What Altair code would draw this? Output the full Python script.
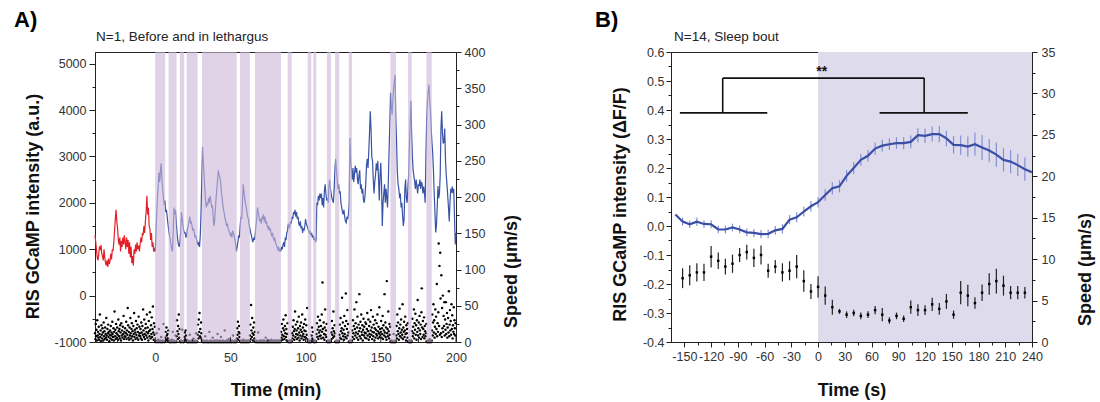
import altair as alt
import pandas as pd

# ======================= Panel A data =======================
tag_a = "A)"
sub_a = "N=1, Before and in lethargus"

gc_pre_start = -40.0
gc_step = 0.5
# RIS GCaMP intensity (a.u.) before lethargus, t = -40 .. -0.5 min
gc_pre = [
    1300, 1150, 980, 820, 760, 900, 1060, 980, 1090, 900, 850, 760, 1000, 820, 700, 650, 760, 620, 800, 680,
    740, 900, 780, 1000, 960, 1150, 1400, 1650, 1850, 1600, 1450, 1200, 1100, 1250, 950, 1180, 1050, 1250, 1100, 1300,
    1150, 1000, 1250, 1050, 1200, 900, 1150, 820, 1050, 700, 850, 650, 1000, 900, 1100, 950, 1150, 1000, 1080, 950,
    1100, 1250, 1150, 1350, 1300, 1500, 1350, 1600, 1800, 2150, 1750, 1900, 1500, 1450, 1200, 1350, 1050, 1150, 950, 1000,
]
gc_leth_start = 0.0
# RIS GCaMP intensity (a.u.) during lethargus, t = 0 .. 200 min
gc_leth = [
    950, 1300, 1750, 2100, 2350, 2650, 2450, 2700, 2850, 2500, 2300, 2100, 1950, 2050, 1800, 1850, 1700, 1550, 1400, 1300,
    1200, 1100, 1000, 950, 1400, 1900, 1750, 1850, 1600, 1350, 1200, 1100, 1050, 1150, 1400, 1800, 1650, 1500, 1400, 1350,
    1350, 1250, 1300, 1450, 1500, 1600, 1700, 1550, 1600, 1500, 1400, 1450, 1350, 1250, 1300, 1200, 1150, 1100, 1150, 1050,
    1300, 1800, 2500, 3200, 2900, 2600, 2300, 2050, 1900, 2000, 1950, 2100, 2000, 2150, 2050, 1900, 1950, 1750, 1500, 1600,
    1850, 2100, 2300, 2500, 2700, 2600, 2550, 2450, 2250, 2100, 1950, 1850, 1750, 1650, 1600, 1500, 1550, 1450, 1400, 1350,
    1300, 1350, 1250, 1400, 1350, 1300, 1200, 1100, 950, 1050, 1150, 1300, 1250, 1500, 1700, 1650, 1950, 2400, 2250, 2100,
    2000, 1900, 1800, 1700, 1650, 1500, 1450, 1350, 1300, 1200, 1150, 1250, 1200, 1300, 1500, 1650, 1900, 1800, 1700, 1600,
    1650, 1550, 1700, 1650, 1750, 1600, 1700, 1550, 1600, 1500, 1450, 1500, 1400, 1450, 1350, 1300, 1350, 1250, 1200, 1250,
    1150, 1100, 1050, 1000, 1050, 950, 1000, 950, 1050, 1000, 1100, 1150, 1050, 1250, 1200, 1350, 1400, 1550, 1450, 1500,
    1600, 1550, 1700, 1650, 1800, 1750, 1850, 1700, 1800, 1650, 1700, 1550, 1500, 1600, 1450, 1500, 1350, 1450, 1400, 1500,
    1650, 1550, 1500, 1450, 1400, 1350, 1400, 1300, 1350, 1250, 1300, 1200, 1250, 1150, 1200, 2000, 1950, 2150, 2050, 2200,
    2100, 2200, 1950, 2100, 1900, 2250, 2400, 2200, 2050, 2100, 2000, 2350, 2500, 2300, 2200, 2100, 2050, 2000, 2300, 2700,
    2950, 2700, 2500, 2300, 2400, 2200, 2250, 2000, 1900, 1800, 1750, 1850, 1700, 1600, 1570, 1700, 1650, 1750, 2000, 3400,
    2900, 2700, 2500, 2750, 2450, 2600, 2800, 2650, 2750, 2500, 2400, 2600, 2700, 2300, 2400, 2200, 2300, 2050, 2000, 2150,
    2400, 2800, 2950, 2750, 3100, 3500, 3975, 3600, 3000, 2900, 2500, 2200, 2450, 2600, 2850, 2700, 2900, 2500, 2050, 2600,
    2860, 2400, 1500, 2000, 2200, 2400, 2000, 2300, 2100, 1900, 2450, 3100, 3700, 4370, 4080, 3900, 4200, 4450, 4600, 4760,
    3800, 3300, 2650, 2400, 2300, 2100, 2200, 1900, 2000, 1720, 1500, 1650, 2300, 2500, 2100, 2000, 2300, 2600, 3200, 3700,
    4200, 3500, 3000, 2700, 2580, 2450, 2300, 2500, 2350, 2200, 2400, 2360, 2500, 2300, 2450, 2400, 2200, 2350, 2220, 2000,
    3000, 3800, 4200, 4400, 4550, 4200, 4000, 3600, 3300, 3080, 2700, 2200, 1800, 1360, 1500, 1900, 2360, 2100, 2200, 2600,
    3600, 3975, 3500, 3290, 3300, 3600, 2930, 2600, 2400, 2150, 1900, 1600, 2000, 2300, 2220, 2350, 2200, 2300, 1700, 1100,
    1350,
]

spd_start = -40.0
spd_step = 0.25
# Speed (um/s), t = -40 .. 199.75 min
spd_values = [
    12, 4, 25, 8, 17, 2, 30, 9, 14, 6, 21, 3, 11, 38, 7, 16, 1, 23, 10, 5, 19, 13, 2, 27, 8, 15, 4, 20, 11, 6, 33, 9, 3, 18, 12, 24, 7, 14, 1, 10,
    16, 5, 22, 9, 13, 3, 28, 11, 7, 19, 2, 14, 42, 8, 17, 4, 25, 12, 6, 20, 10, 3, 31, 15, 8, 18, 5, 23, 13, 2, 26, 9, 16, 6, 21, 11, 36, 4, 14, 8,
    19, 7, 12, 28, 4, 16, 10, 47, 23, 6, 14, 3, 20, 9, 33, 12, 5, 18, 26, 8, 15, 2, 22, 11, 40, 7, 17, 13, 4, 29, 10, 19, 6, 24, 14, 3, 35, 9, 21, 12,
    8, 18, 5, 27, 13, 3, 22, 10, 45, 16, 7, 31, 11, 4, 19, 25, 9, 14, 38, 6, 20, 12, 2, 29, 15, 8, 41, 17, 5, 23, 11, 34, 7, 18, 49, 13, 3, 26, 10, 21,
    0, 1, 0, 2, 12, 0, 1, 0, 3, 0, 18, 1, 0, 2, 0, 0, 7, 1, 0, 0, 2, 0, 25, 1, 0, 1, 0, 6, 14, 3, 20, 9, 2, 11, 5, 16, 1, 0, 2, 0,
    0, 1, 0, 0, 3, 0, 1, 14, 0, 2, 0, 1, 0, 0, 9, 1, 0, 8, 30, 15, 4, 22, 11, 38, 6, 18, 1, 0, 0, 2, 0, 1, 17, 0, 1, 0, 0, 2, 7, 13,
    4, 16, 9, 2, 0, 1, 0, 2, 0, 0, 1, 0, 10, 0, 1, 0, 0, 2, 0, 1, 0, 0, 5, 0, 1, 0, 0, 2, 0, 12, 0, 1, 0, 10, 24, 5, 31, 14, 40, 8,
    18, 6, 27, 12, 3, 1, 0, 0, 2, 0, 1, 0, 0, 8, 0, 1, 0, 2, 0, 0, 1, 0, 0, 0, 14, 1, 0, 0, 2, 0, 1, 0, 0, 6, 0, 1, 0, 0, 2, 0,
    0, 1, 0, 0, 2, 0, 11, 1, 0, 0, 0, 2, 0, 1, 0, 7, 0, 0, 1, 0, 2, 0, 0, 1, 0, 16, 0, 1, 0, 0, 2, 0, 1, 0, 0, 4, 0, 1, 0, 2,
    0, 1, 0, 0, 2, 0, 1, 9, 0, 0, 1, 0, 2, 0, 0, 1, 0, 5, 19, 10, 28, 3, 14, 22, 7, 12, 1, 0, 0, 2, 0, 1, 0, 0, 3, 0, 1, 0, 0, 2,
    0, 1, 0, 0, 2, 0, 1, 0, 0, 2, 0, 1, 9, 24, 4, 51, 16, 7, 33, 12, 2, 20, 10, 27, 5, 14, 1, 0, 0, 2, 0, 1, 0, 0, 13, 0, 1, 0, 0, 2,
    0, 1, 0, 0, 2, 0, 1, 0, 0, 2, 0, 1, 0, 0, 6, 0, 1, 0, 2, 0, 0, 1, 0, 0, 2, 0, 1, 0, 0, 3, 0, 1, 0, 0, 2, 0, 1, 0, 0, 2,
    0, 1, 0, 0, 2, 0, 1, 0, 0, 2, 0, 1, 0, 0, 2, 14, 6, 25, 10, 3, 19, 31, 8, 16, 4, 22, 12, 37, 7, 18, 2, 11, 26, 1, 0, 0, 2, 0, 1, 0,
    0, 2, 0, 1, 12, 5, 21, 9, 30, 15, 3, 18, 42, 7, 24, 11, 16, 4, 28, 10, 19, 6, 35, 13, 2, 22, 9, 17, 27, 5, 14, 38, 8, 20, 11, 3, 25, 16, 7, 31,
    15, 6, 23, 10, 47, 4, 1, 0, 0, 2, 0, 1, 0, 0, 2, 0, 9, 20, 5, 14, 3, 0, 1, 0, 0, 2, 0, 1, 0, 11, 26, 7, 17, 35, 4, 21, 13, 8, 30, 16,
    9, 22, 5, 38, 14, 82, 18, 6, 27, 11, 3, 20, 45, 10, 16, 7, 25, 1, 0, 0, 2, 0, 1, 0, 0, 2, 0, 1, 13, 4, 29, 10, 19, 6, 42, 15, 8, 23, 12, 0,
    1, 0, 0, 2, 0, 1, 0, 0, 2, 0, 10, 24, 6, 33, 15, 4, 19, 61, 12, 27, 8, 17, 3, 36, 11, 22, 7, 67, 29, 5, 18, 44, 9, 25, 13, 0, 1, 0, 0, 2,
    1, 0, 0, 2, 16, 7, 30, 12, 22, 4, 45, 18, 9, 26, 13, 55, 6, 20, 35, 11, 3, 24, 15, 66, 8, 19, 28, 5, 38, 14, 10, 23, 2, 17, 32, 9, 21, 13, 6, 27,
    12, 25, 5, 18, 40, 9, 15, 31, 3, 22, 11, 7, 28, 16, 44, 10, 20, 4, 14, 35, 8, 24, 13, 2, 19, 30, 6, 17, 11, 26, 9, 38, 15, 5, 21, 12, 48, 7, 18, 10,
    14, 29, 6, 19, 11, 36, 4, 23, 16, 9, 66, 13, 27, 7, 20, 3, 84, 12, 18, 8, 42, 15, 5, 25, 10, 21, 1, 0, 0, 2, 0, 1, 0, 0, 11, 0, 1, 0, 0, 2,
    0, 9, 22, 5, 38, 15, 27, 11, 3, 19, 46, 8, 24, 13, 31, 6, 17, 10, 52, 4, 20, 14, 28, 7, 16, 35, 11, 2, 23, 12, 18, 6, 26, 1, 0, 0, 2, 0, 1, 0,
    0, 2, 0, 15, 32, 8, 21, 12, 45, 5, 26, 17, 39, 10, 23, 3, 30, 14, 58, 9, 19, 27, 6, 36, 16, 11, 24, 4, 41, 74, 20, 7, 29, 18, 10, 34, 5, 22, 15, 8,
    12, 25, 1, 0, 0, 2, 0, 1, 0, 0, 4, 0, 1, 0, 0, 2, 16, 38, 9, 27, 52, 13, 30, 6, 21, 45, 11, 35, 18, 80, 8, 26, 14, 41, 136, 22, 105, 10, 123, 60,
    12, 92, 7, 47, 19, 64, 14, 36, 22, 55, 9, 31, 17, 55, 11, 25, 40, 6, 20, 33, 13, 70, 8, 24, 44, 16, 29, 10, 52, 18, 37, 5, 23, 14, 48, 11, 30, 19, 9, 26,
]

sleep_start = [0, 8.9, 16.4, 20.9, 31.1, 56.4, 66.3, 88.1, 101.4, 105.1, 114.2, 119.6, 128.7, 156.4, 168.1, 180.3]
sleep_end = [6.65, 14.2, 19.3, 28.2, 54.2, 63.0, 83.6, 90.8, 103.8, 107.1, 116.9, 122.4, 130.9, 160.1, 170.6, 183.9]

a_x_domain = [-40, 200]
a_x_major = [0, 50, 100, 150, 200]
a_x_minor = [-25, 25, 75, 125, 175]
a_left_domain = [-1000, 5250]
a_left_ticks = [-1000, -500, 0, 500, 1000, 1500, 2000, 2500, 3000, 3500, 4000, 4500, 5000]
a_right_domain = [0, 400]
a_right_ticks = [0, 25, 50, 75, 100, 125, 150, 175, 200, 225, 250, 275, 300, 325, 350, 375, 400]

# ======================= Panel B data =======================
tag_b = "B)"
sub_b = "N=14, Sleep bout"

b_line_t = [-160, -152, -144, -136, -128, -120, -112, -104, -96, -88, -80, -72, -64, -56, -48, -40, -32, -24, -16, -8,
            0, 8, 16, 24, 32, 40, 48, 56, 64, 72, 80, 88, 96, 104, 112, 120, 128, 136, 144, 152, 160, 168, 176, 184,
            192, 200, 208, 216, 224, 232, 240]
b_line_v = [0.04, 0.015, 0.006, 0.015, 0.007, 0.006, -0.012, -0.012, -0.005, -0.012, -0.022, -0.024, -0.028, -0.027,
            -0.015, -0.01, 0.022, 0.03, 0.05, 0.068, 0.082, 0.107, 0.13, 0.137, 0.173, 0.2, 0.228, 0.242, 0.267, 0.277,
            0.282, 0.286, 0.286, 0.29, 0.313, 0.311, 0.317, 0.317, 0.302, 0.28, 0.279, 0.274, 0.282, 0.271, 0.26, 0.246,
            0.228, 0.222, 0.21, 0.196, 0.185]
b_t = [-152, -144, -136, -128, -120, -112, -104, -96, -88, -80, -72, -64, -56, -48, -40, -32, -24, -16, -8,
       0, 8, 16, 24, 32, 40, 48, 56, 64, 72, 80, 88, 96, 104, 112, 120, 128, 136, 144, 152, 160, 168, 176, 184,
       192, 200, 208, 216, 224, 232]
b_gc = b_line_v[1:-1]
b_gc_err = [0.014, 0.013, 0.014, 0.013, 0.014, 0.013, 0.014, 0.013, 0.014, 0.013,
            0.014, 0.014, 0.015, 0.015, 0.016, 0.016, 0.017, 0.017, 0.018, 0.018,
            0.02, 0.021, 0.021, 0.02, 0.021, 0.02, 0.02, 0.021, 0.02, 0.02,
            0.02, 0.021, 0.022, 0.024, 0.025, 0.026, 0.028, 0.027, 0.03, 0.033,
            0.035, 0.04, 0.043, 0.04, 0.042, 0.04, 0.04, 0.038, 0.04]
b_spd = [7.7, 8.05, 8.4, 8.4, 10.3, 9.8, 9.1, 9.45, 10.5, 10.85,
         10.15, 10.5, 8.6, 9.1, 8.4, 8.6, 9.1, 7.35, 6.1, 6.65,
         5.6, 4.2, 3.7, 3.3, 3.5, 3.15, 3.3, 3.85, 3.3, 2.6,
         3.15, 2.8, 4.2, 3.85, 3.85, 4.55, 4.0, 4.9, 3.3, 5.95,
         5.6, 4.7, 5.95, 7.0, 7.35, 6.8, 5.95, 5.95, 5.95]
b_spd_err = [1.2, 1.2, 1.1, 1.05, 1.3, 1.0, 0.95, 1.1, 0.85, 0.9,
             1.1, 1.15, 0.85, 0.8, 1.1, 1.15, 1.4, 1.3, 0.9, 1.3,
             1.1, 0.9, 0.3, 0.4, 0.4, 0.4, 0.4, 0.5, 0.8, 0.4,
             0.4, 0.4, 0.8, 0.7, 0.6, 0.8, 0.7, 0.9, 0.5, 1.4,
             1.3, 0.7, 1.0, 1.3, 1.5, 1.2, 0.8, 0.8, 0.7]

b_shade = [0, 240]
# significance bracket segments (x1, y1) -> (x2, y2)
br_x1 = [-155, -107, -107, 119, 69]
br_x2 = [-57, -107, 119, 119, 168]
br_y1 = [0.39, 0.39, 0.51, 0.51, 0.39]
br_y2 = [0.39, 0.51, 0.51, 0.39, 0.39]
star_label = "**"
star_x = 4
star_y = 0.53

b_x_domain = [-165, 240]
b_x_ticks = [-150, -135, -120, -105, -90, -75, -60, -45, -30, -15, 0, 15, 30, 45, 60, 75, 90, 105, 120, 135,
             150, 165, 180, 195, 210, 225, 240]
b_left_domain = [-0.4, 0.6]
b_left_ticks = [-0.4, -0.35, -0.3, -0.25, -0.2, -0.15, -0.1, -0.05, 0.0, 0.05, 0.1, 0.15, 0.2, 0.25, 0.3, 0.35,
                0.4, 0.45, 0.5, 0.55, 0.6]
b_right_domain = [0, 35]
b_right_ticks = [0, 2.5, 5, 7.5, 10, 12.5, 15, 17.5, 20, 22.5, 25, 27.5, 30, 32.5, 35]

# ======================= styles =======================
W, H = 361, 290
RED = "#e3202a"
BLUE = "#3953a6"
BAND = "#cdb8da"
SHADE_B = "#dddbec"
FONT = "Liberation Sans"

common_axis = dict(grid=False, labelFlush=False, labelOverlap=False, labelFontSize=12.5, labelColor="#333",
                   titleFontSize=18, titleFontWeight="bold", titleColor="#111", domainColor="#222",
                   tickColor="#222", titleBaseline="middle")

# ---------------- Panel A ----------------
gc_t = [gc_pre_start + i * gc_step for i in range(len(gc_pre))] + [0.0]
gc_v = gc_pre + [gc_leth[0]]
le_t = [gc_leth_start + i * gc_step for i in range(len(gc_leth))]
gc_df = pd.DataFrame({
    "t": gc_t + le_t,
    "v": gc_v + gc_leth,
    "seg": ["pre"] * len(gc_t) + ["leth"] * len(le_t),
})
spd_df = pd.DataFrame({"t": [spd_start + i * spd_step for i in range(len(spd_values))], "v": spd_values})
band_df = pd.DataFrame({"t": sleep_start, "t2": sleep_end})

sx_a = alt.Scale(domain=a_x_domain, nice=False, zero=False)
ax_a_x = alt.Axis(values=a_x_major, tickSize=0, labelPadding=9, format="d", title="Time (min)",
                  titleY=48, **common_axis)
ax_a_left = alt.Axis(values=a_left_ticks, labelExpr="datum.value % 1000 == 0 ? '' + datum.value : ''",
                     tickSize={"condition": {"test": "datum.value % 1000 != 0", "value": 3}, "value": 6},
                     labelPadding=3, title="RIS GCaMP intensity (a.u.)", titleAngle=270,
                     titleX=-62, titleY=154, **common_axis)
ax_a_right = alt.Axis(orient="right", values=a_right_ticks,
                      labelExpr="datum.value % 50 == 0 ? '' + datum.value : ''",
                      tickSize={"condition": {"test": "datum.value % 50 != 0", "value": 3}, "value": 5},
                      labelPadding=3, title="Speed (\u03bcm/s)", titleAngle=270,
                      titleX=55, titleY=219, **common_axis)


def xa(field):
    return alt.X(field, type="quantitative", scale=sx_a, axis=ax_a_x)


gc_line = alt.Chart(gc_df).mark_line(strokeWidth=1.2).encode(
    x=xa("t"),
    y=alt.Y("v:Q", scale=alt.Scale(domain=a_left_domain, nice=False, zero=False), axis=ax_a_left),
    color=alt.Color("seg:N", scale=alt.Scale(domain=["pre", "leth"], range=[RED, BLUE]), legend=None),
)
spd_dots = alt.Chart(spd_df).mark_circle(size=6, color="#000", opacity=1).encode(
    x=xa("t"),
    y=alt.Y("v:Q", scale=alt.Scale(domain=a_right_domain, nice=False, zero=False), axis=ax_a_right),
)
bands = alt.Chart(band_df).mark_rect(color=BAND, opacity=0.62).encode(
    x=xa("t"), x2="t2:Q", y=alt.value(0), y2=alt.value(H)
)
ticks_major = alt.Chart(pd.DataFrame({"t": a_x_major})).mark_rule(color="#222").encode(
    x=xa("t"), y=alt.value(H - 5), y2=alt.value(H)
)
ticks_minor = alt.Chart(pd.DataFrame({"t": a_x_minor})).mark_rule(color="#222").encode(
    x=xa("t"), y=alt.value(H - 3), y2=alt.value(H)
)
tag_a_txt = alt.Chart(pd.DataFrame({"s": [tag_a]})).mark_text(
    align="left", baseline="alphabetic", fontSize=22, fontWeight="bold", color="#000", font=FONT
).encode(text="s:N", x=alt.value(-81), y=alt.value(-25))
sub_a_txt = alt.Chart(pd.DataFrame({"s": [sub_a]})).mark_text(
    align="left", baseline="middle", fontSize=13.5, color="#222", font=FONT
).encode(text="s:N", x=alt.value(1), y=alt.value(-15))

panel_a = alt.layer(gc_line, spd_dots, bands, ticks_major, ticks_minor, tag_a_txt, sub_a_txt).resolve_scale(
    y="independent"
).properties(width=W, height=H)

# ---------------- Panel B ----------------
b_line_df = pd.DataFrame({"t": b_line_t, "v": b_line_v})
b_gc_df = pd.DataFrame({"t": b_t, "lo": [v - e for v, e in zip(b_gc, b_gc_err)],
                        "hi": [v + e for v, e in zip(b_gc, b_gc_err)]})
b_spd_df = pd.DataFrame({"t": b_t, "v": b_spd, "lo": [v - e for v, e in zip(b_spd, b_spd_err)],
                         "hi": [v + e for v, e in zip(b_spd, b_spd_err)]})
br_df = pd.DataFrame({"x1": br_x1, "x2": br_x2, "y1": br_y1, "y2": br_y2})
star_df = pd.DataFrame({"x": [star_x], "y": [star_y], "s": [star_label]})
shade_df = pd.DataFrame({"t": [b_shade[0]], "t2": [b_shade[1]]})

sx_b = alt.Scale(domain=b_x_domain, nice=False, zero=False)
sy_bl = alt.Scale(domain=b_left_domain, nice=False, zero=False)
sy_br = alt.Scale(domain=b_right_domain, nice=False, zero=False)
ax_b_x = alt.Axis(values=b_x_ticks, labelExpr="datum.value % 30 == 0 ? '' + datum.value : ''",
                  tickSize={"condition": {"test": "datum.value % 30 != 0", "value": 3}, "value": 5},
                  labelPadding=3, title="Time (s)", titleY=48, **common_axis)
ax_b_left = alt.Axis(values=b_left_ticks,
                     labelExpr="abs(round(datum.value * 100)) % 10 == 0 ? replace(format(datum.value, '.1f'), '\u2212', '-') : ''",
                     tickSize={"condition": {"test": "abs(round(datum.value * 100)) % 10 != 0", "value": 3}, "value": 5},
                     labelPadding=2, title="RIS GCaMP intensity (\u0394F/F)", titleAngle=270,
                     titleX=-51, titleY=152, **common_axis)
ax_b_right = alt.Axis(orient="right", values=b_right_ticks,
                      labelExpr="datum.value % 5 == 0 ? '' + datum.value : ''",
                      tickSize={"condition": {"test": "datum.value % 5 != 0", "value": 3}, "value": 5},
                      labelPadding=4, title="Speed (\u03bcm/s)", titleAngle=270,
                      titleX=53, titleY=217, **common_axis)


def xb(field):
    return alt.X(field, type="quantitative", scale=sx_b, axis=ax_b_x)


def ybl(field):
    return alt.Y(field, type="quantitative", scale=sy_bl, axis=ax_b_left)


def ybr(field):
    return alt.Y(field, type="quantitative", scale=sy_br, axis=ax_b_right)


shade = alt.Chart(shade_df).mark_rect(color=SHADE_B).encode(
    x=xb("t"), x2="t2:Q", y=alt.value(0), y2=alt.value(H)
)
gc_err = alt.Chart(b_gc_df).mark_rule(color="#8391d3", strokeWidth=1.2).encode(x=xb("t"), y=ybl("lo"), y2="hi:Q")
gc_mean = alt.Chart(b_line_df).mark_line(color="#3b4ea6", strokeWidth=2.2).encode(x=xb("t"), y=ybl("v"))
bracket = alt.Chart(br_df).mark_rule(color="#111", strokeWidth=1.6).encode(
    x=xb("x1"), x2="x2:Q", y=ybl("y1"), y2="y2:Q"
)
stars = alt.Chart(star_df).mark_text(fontSize=14, fontWeight="bold", color="#111", baseline="middle",
                                     font=FONT).encode(x=xb("x"), y=ybl("y"), text="s:N")
spd_err = alt.Chart(b_spd_df).mark_rule(color="#222", strokeWidth=1.2).encode(x=xb("t"), y=ybr("lo"), y2="hi:Q")
spd_pts = alt.Chart(b_spd_df).mark_square(size=6, color="#000", opacity=1).encode(x=xb("t"), y=ybr("v"))
tag_b_txt = alt.Chart(pd.DataFrame({"s": [tag_b]})).mark_text(
    align="left", baseline="alphabetic", fontSize=22, fontWeight="bold", color="#000", font=FONT
).encode(text="s:N", x=alt.value(-76), y=alt.value(-25))
sub_b_txt = alt.Chart(pd.DataFrame({"s": [sub_b]})).mark_text(
    align="left", baseline="middle", fontSize=13.5, color="#222", font=FONT
).encode(text="s:N", x=alt.value(3), y=alt.value(-15))

panel_b = alt.layer(
    shade,
    alt.layer(gc_err, gc_mean, bracket, stars),
    alt.layer(spd_err, spd_pts),
    tag_b_txt, sub_b_txt,
).resolve_scale(y="independent").properties(width=W, height=H)

chart = alt.hconcat(panel_a, panel_b, spacing=73).properties(
    padding={"left": 13, "top": 8, "right": 2, "bottom": 0}
).configure(font=FONT).configure_view(stroke="#222", strokeWidth=1)

chart.save("out.html", embed_options={"renderer": "svg", "actions": False})
